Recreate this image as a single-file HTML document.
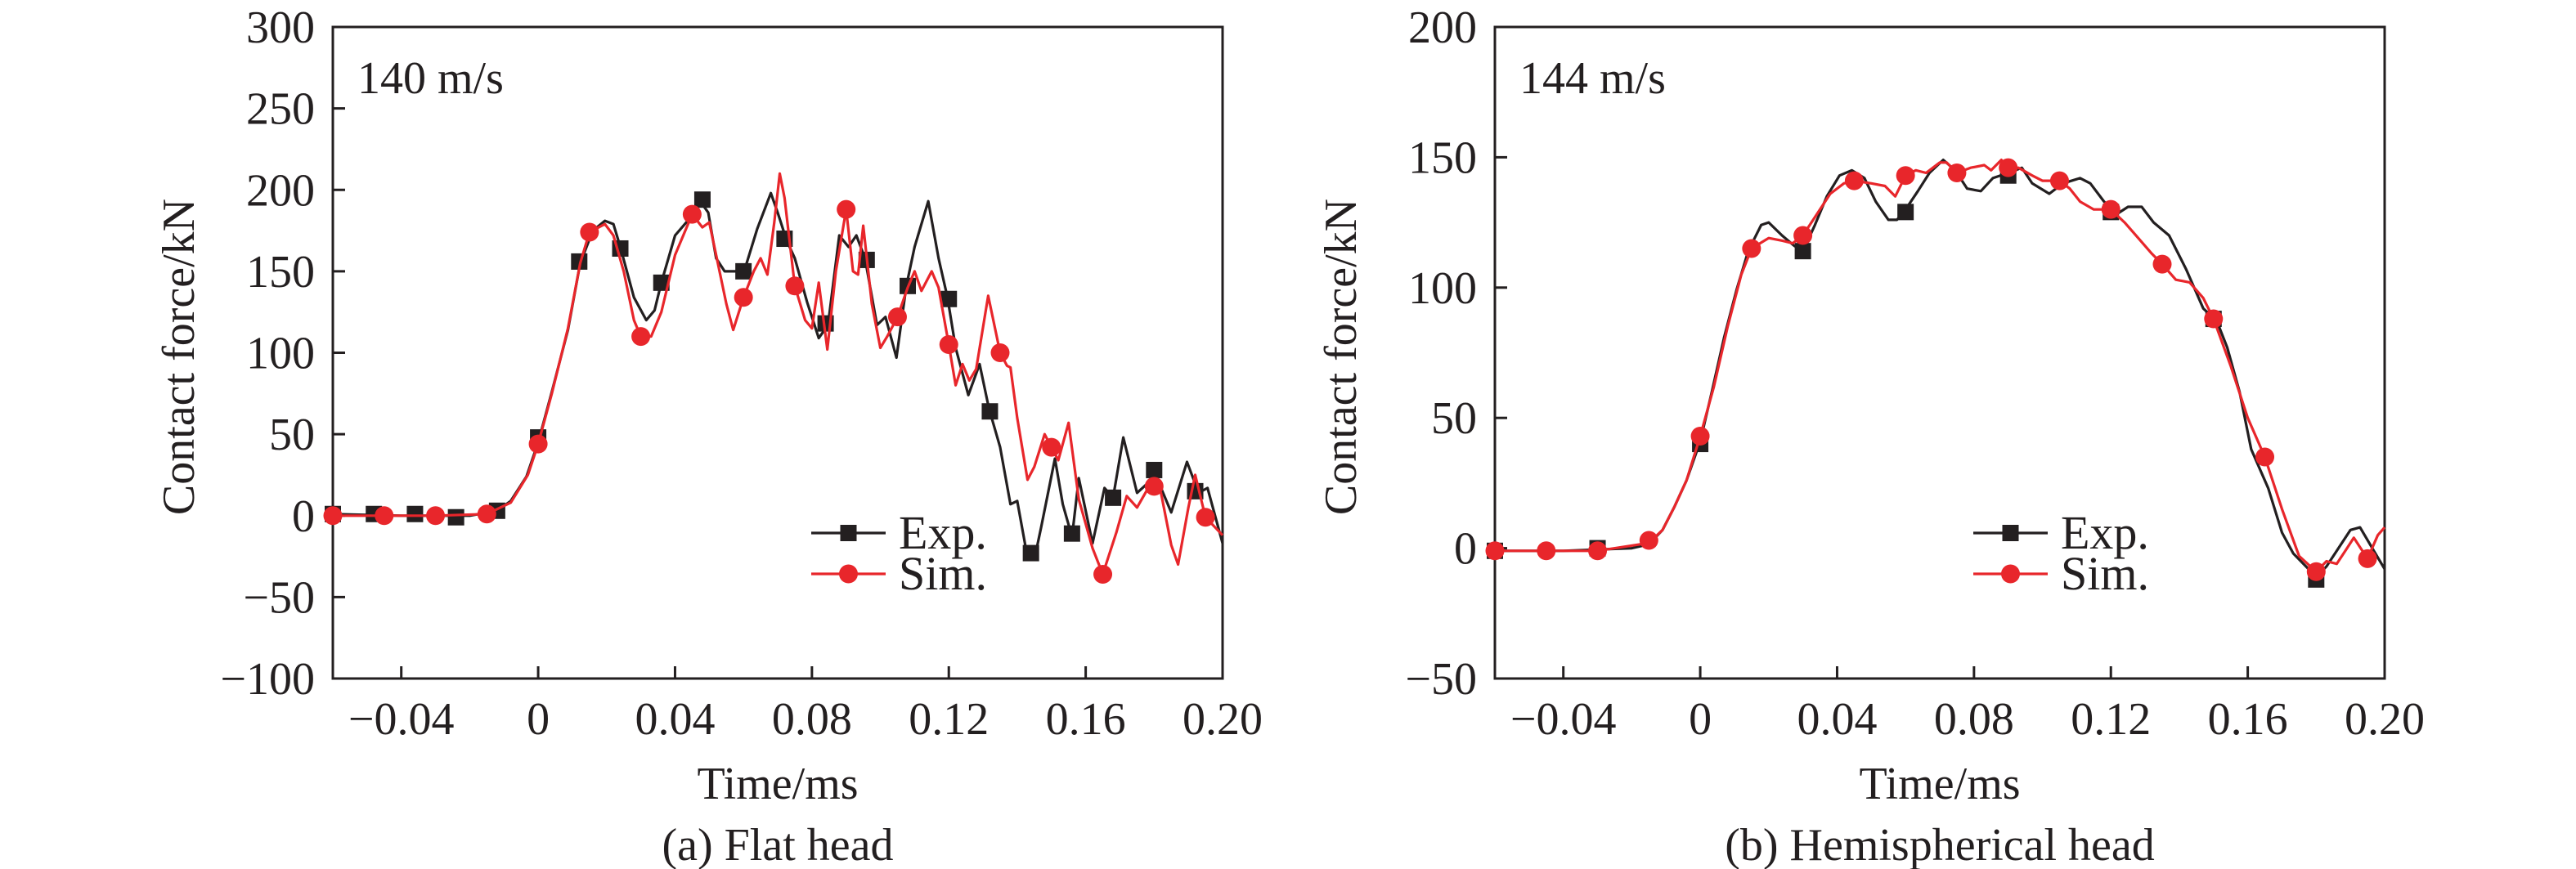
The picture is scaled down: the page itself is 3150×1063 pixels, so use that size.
<!DOCTYPE html>
<html><head><meta charset="utf-8">
<style>
html,body{margin:0;padding:0;background:#fff;}
svg{display:block;}
text{font-family:"Liberation Serif","Times New Roman",serif;fill:#231f20;}
</style></head>
<body>
<svg id="fig" width="3150" height="1063" viewBox="0 0 3150 1063" xmlns="http://www.w3.org/2000/svg"></svg>
<script>
// ---- Panel (a) Flat head data ----
const flatExpT = [-0.06,-0.04,-0.02,-0.012,-0.008,-0.0034,0,0.004,0.0087,0.0123,0.016,0.0195,0.022,0.024,0.028,0.0316,0.034,0.036,0.040,0.0437,0.047,0.0497,0.052,0.0545,0.058,0.0605,0.064,0.068,0.070,0.0726,0.075,0.0786,0.082,0.0847,0.088,0.0907,0.093,0.0955,0.099,0.1015,0.1047,0.1076,0.11,0.114,0.117,0.1196,0.122,0.1257,0.129,0.1317,0.135,0.138,0.140,0.1425,0.145,0.147,0.151,0.1533,0.156,0.158,0.162,0.1655,0.168,0.171,0.175,0.1787,0.182,0.185,0.1896,0.193,0.1956,0.20];
const flatExpV = [1,0,0,3,9,24,45,76,114,155,175,181,179,165,134,120,126,143,172,181,194,186,158,150,150,152,176,198,186,169,158,131,109,117,172,165,172,158,117,122,97,141,165,193,158,134,103,74,93,66,42,7,9,-20,-27,-7,35,7,-13,23,-17,17,11,48,14,21,17,2,33,14,17,-17];
const flatExpMarkT = [-0.06,-0.048,-0.036,-0.024,-0.012,0,0.012,0.024,0.036,0.048,0.06,0.072,0.084,0.096,0.108,0.12,0.132,0.144,0.156,0.168,0.18,0.192];
const flatExpMarkV = [1,1,1,-1,3,48,156,164,143,194,150,170,118,157,141,133,64,-23,-11,11,28,15];
const flatSimT = [-0.06,-0.03,-0.015,-0.008,-0.003,0,0.004,0.0087,0.0123,0.015,0.0195,0.022,0.025,0.028,0.030,0.033,0.036,0.040,0.045,0.048,0.050,0.052,0.055,0.057,0.060,0.063,0.065,0.067,0.069,0.0706,0.072,0.075,0.078,0.080,0.082,0.0845,0.087,0.090,0.092,0.0935,0.095,0.0975,0.100,0.102,0.105,0.108,0.110,0.112,0.115,0.117,0.12,0.122,0.124,0.126,0.128,0.1315,0.135,0.137,0.138,0.140,0.143,0.145,0.148,0.150,0.152,0.155,0.158,0.162,0.165,0.169,0.172,0.175,0.178,0.180,0.182,0.185,0.187,0.190,0.192,0.195,0.20];
const flatSimV = [0,0,1,8,25,44,75,115,155,174,179,172,150,120,110,110,125,160,185,177,180,160,130,114,134,150,158,148,180,210,195,141,120,115,143,102,150,188,150,148,178,130,103,110,122,140,150,138,150,140,105,80,93,83,90,135,100,92,91,60,22,30,50,42,34,57,10,-20,-36,-10,12,5,16,18,14,-18,-30,5,25,-1,-12];
const flatSimMarkT = [-0.06,-0.045,-0.03,-0.015,0,0.015,0.03,0.045,0.06,0.075,0.09,0.105,0.12,0.135,0.15,0.165,0.18,0.195];
const flatSimMarkV = [0,0,0,1,44,174,110,185,134,141,188,122,105,100,42,-36,18,-1];
const flatYTicks = [-100,-50,0,50,100,150,200,250,300];

// ---- Panel (b) Hemispherical head data ----
const hemiExpT = [-0.06,-0.04,-0.02,-0.015,-0.011,-0.0075,-0.004,0,0.0034,0.007,0.0106,0.014,0.0178,0.020,0.0239,0.0275,0.030,0.0335,0.037,0.0407,0.0443,0.048,0.0513,0.055,0.0575,0.06,0.0636,0.067,0.071,0.0745,0.078,0.082,0.0855,0.090,0.094,0.097,0.102,0.106,0.111,0.114,0.118,0.1215,0.125,0.129,0.1325,0.137,0.142,0.147,0.151,0.154,0.1576,0.161,0.166,0.170,0.1733,0.177,0.180,0.183,0.1865,0.190,0.1928,0.1964,0.20];
const hemiExpV = [-1,-1,0,1.5,7,16,26,41,60,81,99,114,124,125,120,116,114,124,135,143,145,142,133,126,126,130,137,144,149,145,138,137,142,144,146,140,136,140,142,140,133,128,131,131,125,120,107,92,87,77,60,38,23,6,-2,-7,-11,-7,0,7,8,0,-8];
const hemiExpMarkT = [-0.06,-0.03,0,0.03,0.06,0.09,0.12,0.15,0.18];
const hemiExpMarkV = [-1,0,40,114,129,143,129,88,-12];
const hemiSimT = [-0.06,-0.03,-0.015,-0.011,-0.0075,-0.004,0,0.004,0.008,0.012,0.015,0.02,0.024,0.027,0.03,0.034,0.038,0.042,0.045,0.05,0.054,0.057,0.06,0.063,0.066,0.07,0.072,0.075,0.079,0.083,0.085,0.088,0.09,0.093,0.097,0.1,0.105,0.108,0.111,0.115,0.12,0.124,0.128,0.132,0.135,0.139,0.143,0.147,0.15,0.155,0.16,0.165,0.17,0.175,0.18,0.183,0.186,0.189,0.191,0.193,0.195,0.198,0.2];
const hemiSimV = [-1,-1,2,7,16,26,43,62,85,105,115,119,118,117,120,128,136,140,141,140,139,135,143,145,144,148,148,144,146,147,145,149,146,146,143,141,141,138,133,130,130,125,119,113,109,103,102,96,88,70,50,35,15,-3,-9,-5,-6,0,4,0,-4,5,8];
const hemiSimMarkT = [-0.06,-0.045,-0.03,-0.015,0,0.015,0.03,0.045,0.06,0.075,0.09,0.105,0.12,0.135,0.15,0.165,0.18,0.195];
const hemiSimMarkV = [-1,-1,-1,3,43,115,120,141,143,144,146,141,130,109,88,35,-9,-4];
const hemiYTicks = [-50,0,50,100,150,200];

const xTicks = [-0.04,0,0.04,0.08,0.12,0.16,0.20];
const xTickLabels = ["\u22120.04","0","0.04","0.08","0.12","0.16","0.20"];

const NS = "http://www.w3.org/2000/svg";
const svg = document.getElementById('fig');
const BLACK = "#231f20", RED = "#e8262b";

function mk(tag, attrs, parent){
  const e = document.createElementNS(NS, tag);
  for (const k in attrs) e.setAttribute(k, attrs[k]);
  (parent||svg).appendChild(e);
  return e;
}

function panel(opts){
  const g = mk('g', {});
  
  
  const L = opts.left, R = opts.left + 1088, T = 33, B = 830;
  const xs = t => L + (t - (-0.06)) / 0.26 * (R - L);
  const ys = v => B - (v - opts.ymin) / (opts.ymax - opts.ymin) * (B - T);

  // frame
  const frame = mk('rect', {x:L, y:T, width:R-L, height:B-T, fill:'none', stroke:BLACK, 'stroke-width':3}, g);
  
  

  // y ticks
  opts.yTicks.forEach(v => {
    const y = ys(v);
    const tk = mk('line', {x1:L, x2:L+15, y1:y, y2:y, stroke:BLACK, 'stroke-width':3}, g);
    
    
    const lb = mk('text', {x:L-22, y:y+19, 'text-anchor':'end', 'font-size':56}, g);
    lb.textContent = (v < 0 ? "\u2212" + Math.abs(v) : String(v));
    
    
  });
  // x ticks
  xTicks.forEach((t, i) => {
    const x = xs(t);
    const tk = mk('line', {x1:x, x2:x, y1:B, y2:B-15, stroke:BLACK, 'stroke-width':3}, g);
    
    
    const lb = mk('text', {x:x, y:898, 'text-anchor':'middle', 'font-size':56}, g);
    lb.textContent = xTickLabels[i];
    
    
  });

  // y axis title
  const cy = (T + B) / 2 + 5;
  const yt = mk('text', {x:0, y:0, 'text-anchor':'middle', 'font-size':56, transform:`translate(${L-170},${cy}) rotate(-90)`}, g);
  yt.textContent = 'Contact force/kN';
  
  
  // x axis title
  const xt = mk('text', {x:(L+R)/2, y:977, 'text-anchor':'middle', 'font-size':56}, g);
  xt.textContent = 'Time/ms';
  
  
  // caption
  const cp = mk('text', {x:(L+R)/2, y:1052, 'text-anchor':'middle', 'font-size':56}, g);
  cp.textContent = opts.caption;
  
  
  // speed annotation
  const sp = mk('text', {x:L+30, y:114, 'font-size':56}, g);
  sp.textContent = opts.speed;
  
  

  // series
  function series(T_, V_, mT, mV, color, shape, nm){
    const sg = mk('g', {}, g);
    
    
    const d = T_.map((t, i) => (i ? 'L' : 'M') + xs(t).toFixed(1) + ',' + ys(V_[i]).toFixed(1)).join(' ');
    const p = mk('path', {d:d, fill:'none', stroke:color, 'stroke-width':3.2, 'stroke-linejoin':'round'}, sg);
    
    
    mT.forEach((t, i) => {
      const x = xs(t), y = ys(mV[i]);
      let m;
      if (shape === 'square') m = mk('rect', {x:x-10, y:y-10, width:20, height:20, fill:color}, sg);
      else m = mk('circle', {cx:x, cy:y, r:11.5, fill:color}, sg);
      
      
    });
  }
  series(opts.expT, opts.expV, opts.expMT, opts.expMV, BLACK, 'square', 'exp-series');
  series(opts.simT, opts.simV, opts.simMT, opts.simMV, RED, 'circle', 'sim-series');

  // legend
  const lg = mk('g', {}, g);
  
  
  const lx1 = opts.legendX, lx2 = opts.legendX + 91, lmx = (lx1 + lx2) / 2;
  [[652, BLACK, 'square', 'Exp.', 'legend-entry-exp'], [702, RED, 'circle', 'Sim.', 'legend-entry-sim']].forEach(r => {
    const eg = mk('g', {}, lg);
    
    
    mk('line', {x1:lx1, x2:lx2, y1:r[0], y2:r[0], stroke:r[1], 'stroke-width':3.2}, eg);
    if (r[2] === 'square') mk('rect', {x:lmx-10, y:r[0]-10, width:20, height:20, fill:r[1]}, eg);
    else mk('circle', {cx:lmx, cy:r[0], r:11.5, fill:r[1]}, eg);
    const tx = mk('text', {x:lx2 + 16, y:r[0] + 19, 'font-size':58}, eg);
    tx.textContent = r[3];
  });
}

panel({name:'panel-a-flat-head', left:407, ymin:-100, ymax:300, yTicks:flatYTicks,
  caption:'(a) Flat head', speed:'140 m/s', legendX:992,
  expT:flatExpT, expV:flatExpV, expMT:flatExpMarkT, expMV:flatExpMarkV,
  simT:flatSimT, simV:flatSimV, simMT:flatSimMarkT, simMV:flatSimMarkV});
panel({name:'panel-b-hemispherical-head', left:1828, ymin:-50, ymax:200, yTicks:hemiYTicks,
  caption:'(b) Hemispherical head', speed:'144 m/s', legendX:2413,
  expT:hemiExpT, expV:hemiExpV, expMT:hemiExpMarkT, expMV:hemiExpMarkV,
  simT:hemiSimT, simV:hemiSimV, simMT:hemiSimMarkT, simMV:hemiSimMarkV});
</script>
</body></html>
